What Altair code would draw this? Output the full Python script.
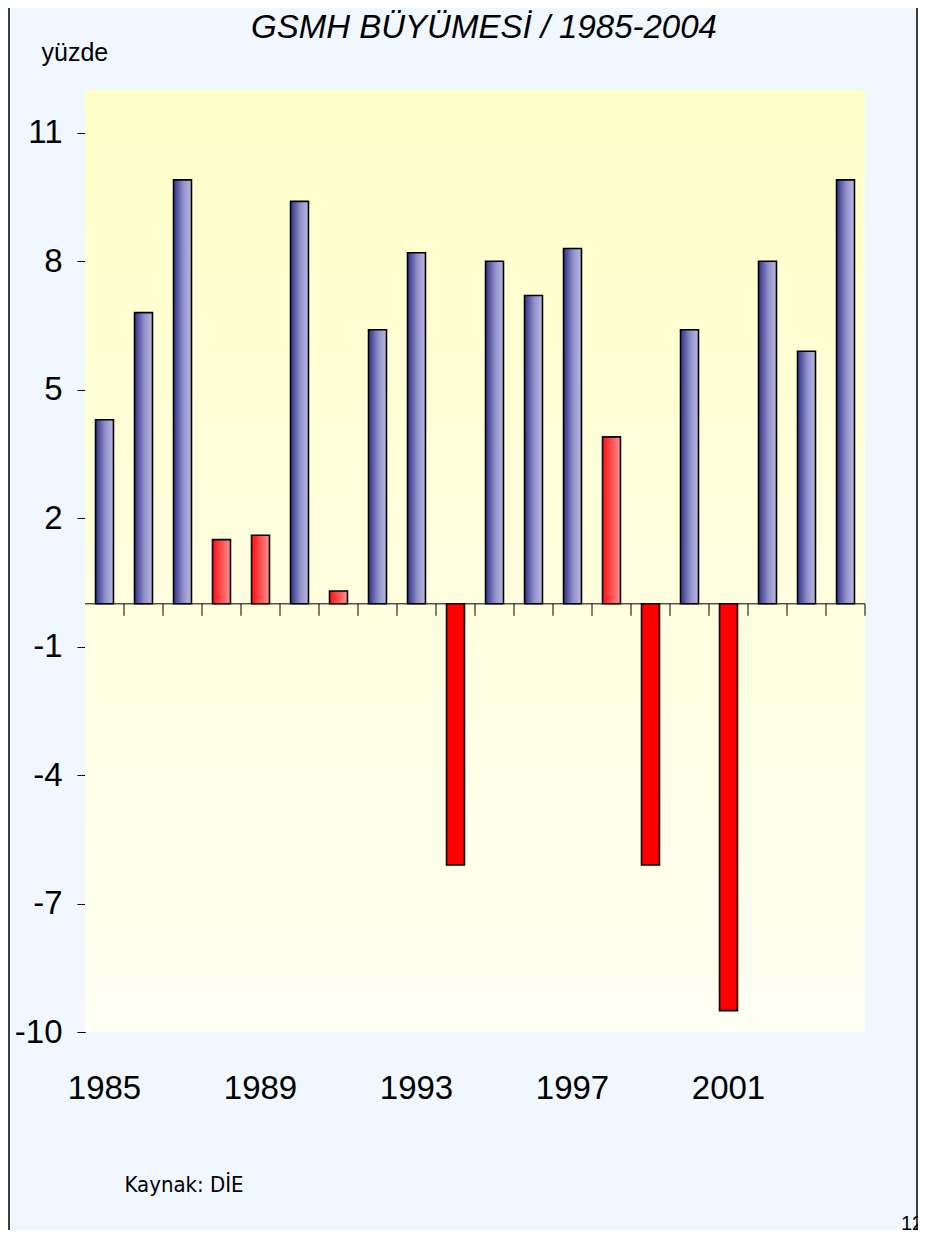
import altair as alt
import pandas as pd

# ---- data ----
years = list(range(1985, 2005))
growth = [4.3, 6.8, 9.9, 1.5, 1.6, 9.4, 0.3, 6.4, 8.2, -6.1,
          8.0, 7.2, 8.3, 3.9, -6.1, 6.4, -9.5, 8.0, 5.9, 9.9]
label_years = [1985, 1989, 1993, 1997, 2001]
y_ticks = [11, 8, 5, 2, -1, -4, -7, -10]

title_text = "GSMH BÜYÜMESİ / 1985-2004"
unit_text = "yüzde"
source_text = "Kaynak: DİE"
page_text = "12"


def group_of(v):
    if v < 0:
        return "neg"
    if v < 4:
        return "low"
    return "high"


df = pd.DataFrame({"year": years, "value": growth,
                   "grp": [group_of(v) for v in growth]})
one = pd.DataFrame({"k": [0]})

# ---- layout ----
W, H = 780, 942
PL, PT, PR, PB = 77, 82, 53, 198
SANS = "'Liberation Sans', Arial, sans-serif"

x_scale = alt.Scale(domain=years, paddingInner=0, paddingOuter=0)
x_axis = alt.Axis(
    values=label_years, domain=False, ticks=False, tickSize=0,
    labelFont=SANS, labelFontSize=33, labelPadding=40, labelAngle=0,
    labelColor="black", labelOverlap=False,
    title=source_text, titleFont="'DejaVu Sans Condensed', sans-serif",
    titleFontSize=22, titleFontWeight="normal", titleAngle=0,
    titleAlign="left", titleBaseline="middle", titleX=39, titleY=152,
    titleColor="black",
)
x_enc = alt.X("year:O", scale=x_scale, axis=x_axis)

y_scale = alt.Scale(domain=[-10, 12], nice=False, zero=False)
y_axis = alt.Axis(
    values=y_ticks, grid=False, domainColor="black", domainWidth=1,
    tickColor="black", tickSize=8, tickWidth=1,
    labelFont=SANS, labelFontSize=33, labelPadding=15,
    labelExpr="replace(datum.label, '\u2212', '-')",
    labelColor="black", labelOverlap=False, labelFlush=False,
    title=unit_text, titleFont=SANS,
    titleFontSize=25, titleFontWeight="normal", titleAngle=0,
    titleAlign="left", titleBaseline="middle", titleX=-44, titleY=-38,
    titleColor="black",
)
y_enc = alt.Y("value:Q", scale=y_scale, axis=y_axis)


def grad(stops, vertical=False):
    return alt.LinearGradient(
        gradient="linear",
        stops=[alt.GradientStop(color=c, offset=o) for o, c in stops],
        x1=0, x2=0 if vertical else 1, y1=0, y2=1 if vertical else 0,
    )


bg = alt.Chart(one).mark_rect(
    fill=grad([(0, "#ffffc8"), (1, "#fffff3")], vertical=True)
).encode(x=alt.value(0), x2=alt.value(W), y=alt.value(0), y2=alt.value(H))

zero_line = alt.Chart(one).mark_rule(color="black", strokeWidth=1).encode(
    y=alt.Y(datum=0, scale=y_scale, axis=y_axis)
)

ticks = alt.Chart(df).mark_rule(color="black", strokeWidth=1).encode(
    x=alt.X("year:O", bandPosition=1, scale=x_scale, axis=x_axis),
    y=alt.Y(datum=0, scale=y_scale, axis=y_axis),
    y2=alt.Y2(datum=-0.28),
)

base = alt.Chart(df)
bar_w = alt.RelativeBandSize(0.46)

blue = base.transform_filter("datum.grp == 'high'").mark_bar(
    width=bar_w, stroke="black", strokeWidth=1.6,
    fill=grad([(0, "#30308a"), (0.55, "#9292ca"), (1, "#babae4")]),
).encode(x=x_enc, y=y_enc, y2=alt.Y2(datum=0))

red_low = base.transform_filter("datum.grp == 'low'").mark_bar(
    width=bar_w, stroke="black", strokeWidth=1.6,
    fill=grad([(0, "#ff1010"), (1, "#ff9090")]),
).encode(x=x_enc, y=y_enc, y2=alt.Y2(datum=0))

red_neg = base.transform_filter("datum.grp == 'neg'").mark_bar(
    width=bar_w, stroke="black", strokeWidth=1.6, fill="#ff0000",
).encode(x=x_enc, y=y_enc, y2=alt.Y2(datum=0))

frame_l = alt.Chart(one).mark_rule(color="black", strokeWidth=1.5).encode(
    x=alt.value(-PL + 1), y=alt.value(-PT), y2=alt.value(H + PB)
)
frame_r = alt.Chart(one).mark_rule(color="black", strokeWidth=1.5).encode(
    x=alt.value(W + PR - 1), y=alt.value(-PT), y2=alt.value(H + PB)
)

title = alt.Chart(one).mark_text(
    text=title_text, font=SANS, fontSize=33, fontStyle="italic",
    align="center", baseline="alphabetic", color="black",
).encode(x=alt.value(399), y=alt.value(-52))

page_no = alt.Chart(one).mark_text(
    text=page_text, font=SANS, fontSize=20,
    align="left", baseline="top", color="black",
).encode(x=alt.value(W + 36), y=alt.value(H + 182))

chart = alt.layer(
    bg, zero_line, ticks, blue, red_low, red_neg, frame_l, frame_r,
    title, page_no
).properties(
    width=W, height=H,
    padding={"left": PL, "top": PT, "right": PR, "bottom": PB},
    autosize=alt.AutoSizeParams(type="none"),
    background="#f1f7fe",
).configure_view(stroke=None)

chart.save("out.html", embed_options={"renderer": "svg", "actions": False})
